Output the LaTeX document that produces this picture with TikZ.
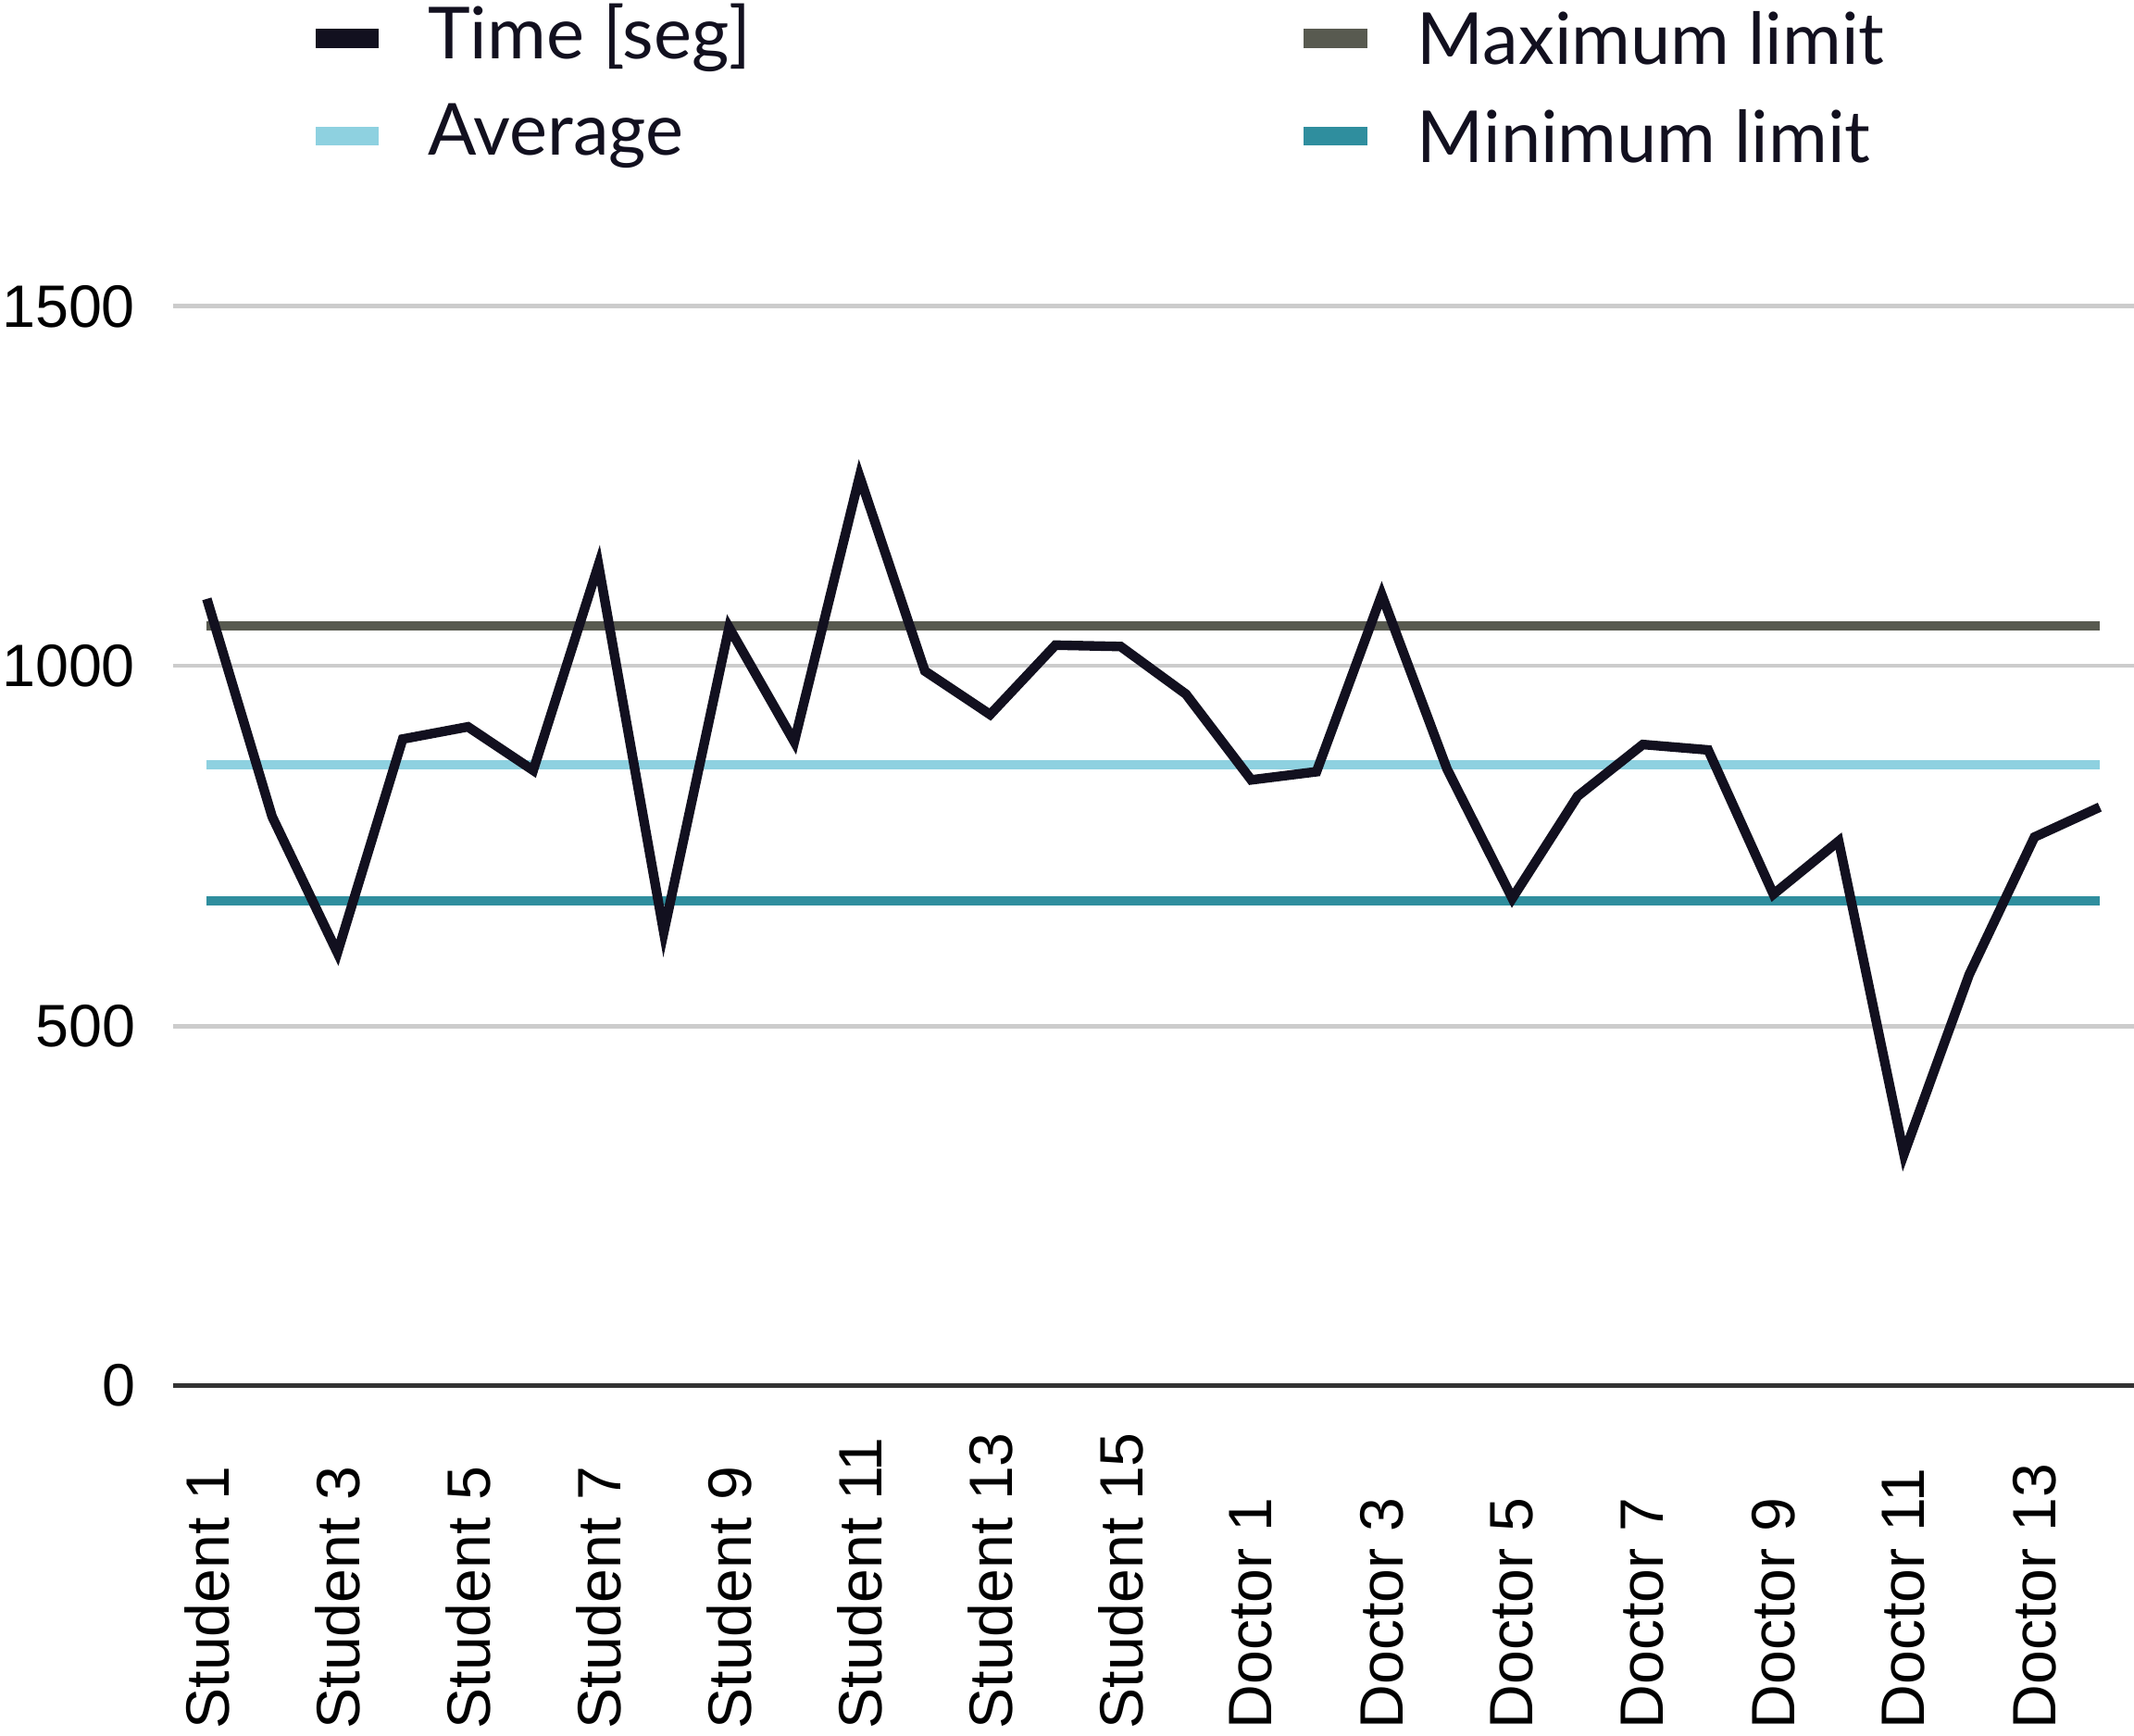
\documentclass[tikz,border=0pt]{standalone}
\usepackage{fontspec}
\setmainfont{Liberation Sans}
\newfontfamily\lato{Lato}
\definecolor{cdata}{HTML}{12101F}
\definecolor{cavg}{HTML}{8ED1E0}
\definecolor{cmax}{HTML}{585A50}
\definecolor{cmin}{HTML}{2F8E9E}
\definecolor{cgrid}{HTML}{CCCCCC}
\begin{document}
\begin{tikzpicture}[x=0.01cm,y=-0.01cm,
  grid/.style={cgrid,line width=0.9pt},
  lim/.style={line width=2pt},
  sw/.style={line width=4pt},
  leg/.style={font=\lato\fontsize{15}{17}\selectfont,anchor=west,text=cdata},
  ylab/.style={font=\fontsize{12.5}{14}\selectfont,anchor=east,inner sep=0pt},
  xlab/.style={font=\fontsize{12.8}{14}\selectfont,rotate=90,anchor=west,inner sep=0pt}]
\useasboundingbox (0,0) rectangle (1568,1275);
\foreach \v/\p in {1500/225,1000/489,500/754}{
  \draw[grid] (127,\p) -- (1568,\p);
  \node[ylab] at (100,\p) {\v};}
\node[ylab] at (100,1018) {0};
\draw[line width=0.9pt,black!80] (127,1018) -- (1568,1018);
\draw[lim,cmax] (152,460) -- (1543,460);
\draw[lim,cavg] (152,562) -- (1543,562);
\draw[lim,cmin] (152,662) -- (1543,662);
\def\ys{{440,600,700,543,534,566,415,685,461,545,350,493,525,474,475,510,573,567,437,565,660,585,547,551,657,618,848,716,615,593}}
\draw[cdata,line width=2pt,line join=miter] (152,440)
  \foreach \i in {1,...,29}{ -- ({152+\i*47.96},{\ys[\i]}) };
\foreach \i/\t in {0/Student 1,2/Student 3,4/Student 5,6/Student 7,8/Student 9,10/Student 11,12/Student 13,14/Student 15,16/Doctor 1,18/Doctor 3,20/Doctor 5,22/Doctor 7,24/Doctor 9,26/Doctor 11,28/Doctor 13}
  \node[xlab] at ({152+\i*47.96},1271) {\t};
\draw[sw,cdata] (232,28) -- (278,28);
\node[leg] at (302,28) {Time [seg]};
\draw[sw,cavg] (232,100) -- (278,100);
\node[leg] at (302,100) {Average};
\draw[sw,cmax] (958,28) -- (1005,28);
\node[leg] at (1029,28) {Maximum limit};
\draw[sw,cmin] (958,100) -- (1005,100);
\node[leg] at (1029,100) {Minimum limit};
\end{tikzpicture}
\end{document}
